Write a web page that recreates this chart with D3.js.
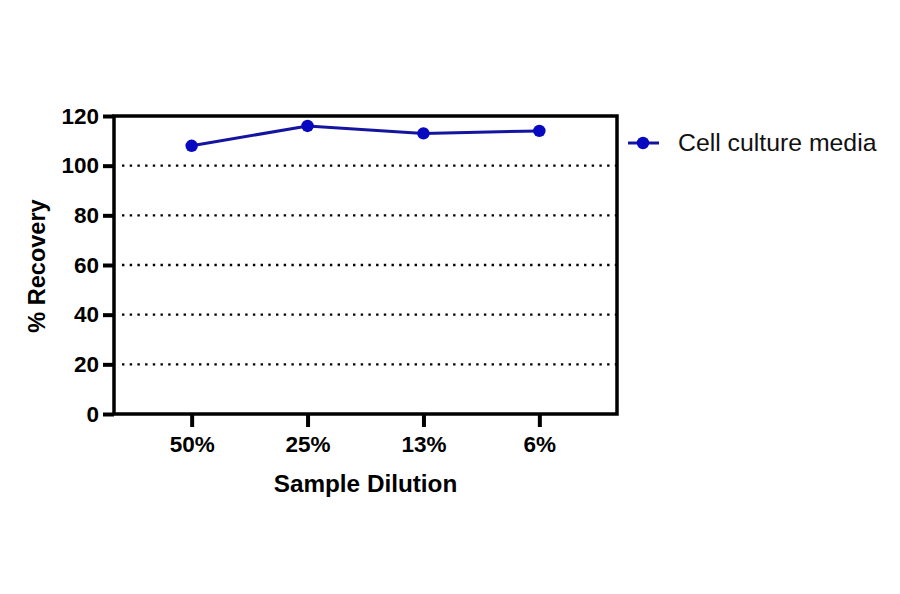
<!DOCTYPE html>
<html><head><meta charset="utf-8">
<script src="https://cdn.jsdelivr.net/npm/d3@7"></script>
<style>html,body{margin:0;padding:0;background:#fff;}svg{display:block;}</style>
</head><body>
<svg id="c" width="900" height="594"></svg>
<script>
const categories = ["50%", "25%", "13%", "6%"];
const recovery = [108, 116, 113, 114];
const yTicks = [0, 20, 40, 60, 80, 100, 120];
const gridValues = [20, 40, 60, 80, 100];
const seriesName = "Cell culture media";

const svg = d3.select("#c");
const font = "Arial, 'Liberation Sans', sans-serif";
const L = 114, R = 617, T = 116, B = 414;
const lineColor = "#1414a0", markColor = "#0808c0";

const x = d3.scalePoint().domain(categories).range([L, R]).padding(0.67);
const y = d3.scaleLinear().domain([0, 120]).range([B, T]);

// grid
svg.append("g").selectAll("line").data(gridValues).join("line")
  .attr("x1", L + 8).attr("x2", R).attr("y1", d => y(d)).attr("y2", d => y(d))
  .attr("stroke", "#000").attr("stroke-width", 2.4).attr("stroke-dasharray", "2.4,5.3");

// frame
svg.append("rect").attr("x", L).attr("y", T).attr("width", R - L).attr("height", B - T)
  .attr("fill", "none").attr("stroke", "#000").attr("stroke-width", 3.5);

// y axis
const ya = svg.append("g").attr("transform", `translate(${L},0)`)
  .call(d3.axisLeft(y).tickValues(yTicks).tickSize(11).tickPadding(4));
ya.select(".domain").remove();
ya.selectAll(".tick line").attr("stroke-width", 4);
ya.selectAll(".tick text").attr("font-family", font).attr("font-weight", "bold").attr("font-size", 22.5).attr("fill", "#000");

// x axis
const xa = svg.append("g").attr("transform", `translate(0,${B})`)
  .call(d3.axisBottom(x).tickSize(13).tickPadding(9));
xa.select(".domain").remove();
xa.selectAll(".tick line").attr("stroke-width", 4);
xa.selectAll(".tick text").attr("font-family", font).attr("font-weight", "bold").attr("font-size", 22.5).attr("fill", "#000");

// titles
svg.append("text").attr("x", (L + R) / 2).attr("y", 492).attr("text-anchor", "middle")
  .attr("font-family", font).attr("font-weight", "bold").attr("font-size", 24.3).text("Sample Dilution");
svg.append("text").attr("transform", `translate(45,${(T + B) / 2 + 1}) rotate(-90)`).attr("text-anchor", "middle")
  .attr("font-family", font).attr("font-weight", "bold").attr("font-size", 23.5).text("% Recovery");

// series
const pts = categories.map((c, i) => [x(c), y(recovery[i])]);
svg.append("path").attr("d", d3.line()(pts)).attr("fill", "none").attr("stroke", lineColor).attr("stroke-width", 3);
svg.append("g").selectAll("circle").data(pts).join("circle")
  .attr("cx", d => d[0]).attr("cy", d => d[1]).attr("r", 6.2).attr("fill", markColor);

// legend
const lg = svg.append("g");
lg.append("line").attr("x1", 628).attr("x2", 659).attr("y1", 143).attr("y2", 143).attr("stroke", lineColor).attr("stroke-width", 3);
lg.append("circle").attr("cx", 643).attr("cy", 143).attr("r", 6.2).attr("fill", markColor);
lg.append("text").attr("x", 678).attr("y", 151).attr("font-family", font).attr("font-size", 24.8).attr("fill", "#111").text(seriesName);
</script>
</body></html>
